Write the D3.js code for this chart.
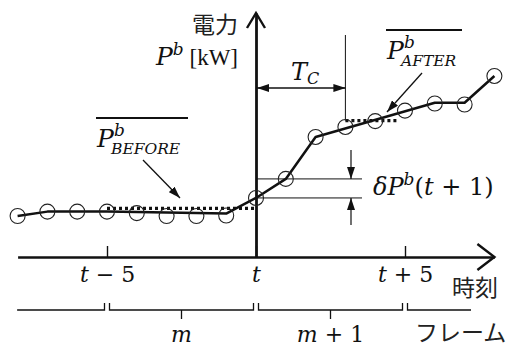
<!DOCTYPE html>
<html>
<head>
<meta charset="utf-8">
<script src="https://cdn.jsdelivr.net/npm/d3@7"></script>
<style>
  body { margin: 0; background: #fff; }
  svg { display: block; }
  .math { font-family: "DejaVu Serif", serif; }
  .jp { font-family: "Noto Sans CJK JP", sans-serif; }
</style>
</head>
<body>
<div id="chart"></div>
<script>
// time steps relative to t, and sampled power (circles)
var steps = [-8, -7, -6, -5, -4, -3, -2, -1, 0, 1, 2, 3, 4, 5, 6, 7, 8];
var sampleP = [16.8, 18.6, 18.6, 18.6, 18.0, 16.8, 16.8, 17.0, 24.2, 32.0, 49.2, 53.3, 55.7, 60.0, 62.9, 62.5, 74.2];

// trend line vertices
var trendSteps = [-8, -7, -5, -1, 0, 1, 2, 6, 7, 8];
var trendP = [16.8, 18.6, 18.6, 17.8, 24.2, 32.0, 49.2, 63.2, 63.2, 74.2];

// averages before / after (dotted)
var avgFrom = [-5, 3];
var avgTo = [0, 4.8];
var avgP = [19.9, 55.9];

// x ticks
var tickSteps = [-5, 0, 5];
var tickLabels = [["t", " − 5"], ["t", ""], ["t", " + 5"]];

// frames
var frameFrom = [-8.1, -5, 0, 5];
var frameTo = [-5, 0, 5, 7.3];
var frameLabels = ["", "m", "m + 1", ""];

var W = 515, H = 349;
var x = d3.scaleLinear().domain([-8, 8]).range([17.6, 494.4]);
var y = d3.scaleLinear().domain([0, 100]).range([257, 13]);

var svg = d3.select("#chart").append("svg")
    .attr("width", W)
    .attr("height", H);

var defs = svg.append("defs");
defs.append("marker")
    .attr("id", "head")
    .attr("viewBox", "0 0 12 8")
    .attr("refX", 12).attr("refY", 4)
    .attr("markerWidth", 12).attr("markerHeight", 8)
    .attr("markerUnits", "userSpaceOnUse")
    .attr("orient", "auto-start-reverse")
    .append("path")
    .attr("d", "M0,0L12,4L0,8Z")
    .attr("fill", "#111");

// x axis
var xAxis = svg.append("g")
    .attr("transform", "translate(0," + y(0) + ")")
    .call(d3.axisBottom(x)
        .tickValues(tickSteps)
        .tickSizeInner(-11)
        .tickSizeOuter(0)
        .tickPadding(9)
        .tickFormat(""));
xAxis.select(".domain").attr("stroke", "#111").attr("stroke-width", 2.4);
xAxis.selectAll(".tick line").attr("stroke", "#111").attr("stroke-width", 1.4);
xAxis.selectAll(".tick text").each(function(d, i) {
    var t = d3.select(this)
        .attr("class", "math")
        .attr("font-size", 22)
        .attr("fill", "#111");
    t.append("tspan").attr("font-style", "italic").text(tickLabels[i][0]);
    t.append("tspan").text(tickLabels[i][1]);
});
// x arrow
svg.append("path")
    .attr("d", "M" + (x(8) - 17) + "," + (y(0) - 13) + "L" + x(8) + "," + y(0) + "L" + (x(8) - 17) + "," + (y(0) + 13))
    .attr("fill", "none").attr("stroke", "#111").attr("stroke-width", 2.4);

// y axis
var yAxis = svg.append("g")
    .attr("transform", "translate(" + x(0) + ",0)")
    .call(d3.axisLeft(y).tickValues([]).tickSizeOuter(0));
yAxis.select(".domain").attr("stroke", "#111").attr("stroke-width", 2.8);
svg.append("path")
    .attr("d", "M" + (x(0) - 9) + "," + (y(100) + 15) + "L" + x(0) + "," + y(100) + "L" + (x(0) + 9) + "," + (y(100) + 15))
    .attr("fill", "none").attr("stroke", "#111").attr("stroke-width", 2.4);

// axis titles
svg.append("text").attr("class", "jp")
    .attr("x", 238).attr("y", 33)
    .attr("text-anchor", "end")
    .attr("font-size", 23).attr("fill", "#222")
    .text("電力");
var yt = svg.append("text").attr("class", "math")
    .attr("x", 238).attr("y", 65)
    .attr("text-anchor", "end")
    .attr("fill", "#111");
yt.append("tspan").attr("font-style", "italic").attr("font-size", 25).text("P");
yt.append("tspan").attr("font-style", "italic").attr("font-size", 17).attr("dy", -10).text("b");
yt.append("tspan").attr("font-size", 23).attr("dy", 10).attr("font-family", "Liberation Serif").text(" [kW]");

svg.append("text").attr("class", "jp")
    .attr("x", 452).attr("y", 296)
    .attr("font-size", 23).attr("fill", "#222")
    .text("時刻");

// delta lines
var dTop = y(sampleP[steps.indexOf(1)]);
var dBot = y(sampleP[steps.indexOf(0)]);
svg.selectAll(".dline").data([dTop, dBot]).enter().append("line")
    .attr("x1", x(0)).attr("x2", 362)
    .attr("y1", function(d) { return d; })
    .attr("y2", function(d) { return d; })
    .attr("stroke", "#111").attr("stroke-width", 1);
svg.append("line")
    .attr("x1", 351).attr("x2", 351).attr("y1", dTop - 29).attr("y2", dTop)
    .attr("stroke", "#111").attr("stroke-width", 1.2).attr("marker-end", "url(#head)");
svg.append("line")
    .attr("x1", 351).attr("x2", 351).attr("y1", dBot + 27).attr("y2", dBot)
    .attr("stroke", "#111").attr("stroke-width", 1.2).attr("marker-end", "url(#head)");
var dt = svg.append("text").attr("class", "math")
    .attr("x", 373).attr("y", 195).attr("fill", "#111");
dt.append("tspan").attr("font-style", "italic").attr("font-size", 24).text("δP");
dt.append("tspan").attr("font-style", "italic").attr("font-size", 17).attr("dy", -10).text("b");
dt.append("tspan").attr("font-size", 24).attr("dy", 10).text("(");
dt.append("tspan").attr("font-size", 24).attr("font-style", "italic").text("t");
dt.append("tspan").attr("font-size", 24).text(" + 1)");

// Tc
var tcX = x(3);
svg.append("line")
    .attr("x1", tcX).attr("x2", tcX).attr("y1", 35).attr("y2", y(avgP[1]))
    .attr("stroke", "#111").attr("stroke-width", 1);
svg.append("line")
    .attr("x1", x(0) + 1).attr("x2", tcX).attr("y1", 88).attr("y2", 88)
    .attr("stroke", "#111").attr("stroke-width", 1.3)
    .attr("marker-start", "url(#head)").attr("marker-end", "url(#head)");
var tc = svg.append("text").attr("class", "math")
    .attr("x", 291).attr("y", 80).attr("fill", "#111");
tc.append("tspan").attr("font-style", "italic").attr("font-size", 24).text("T");
tc.append("tspan").attr("font-style", "italic").attr("font-size", 16).attr("dy", 4).text("C");

// average dotted lines
svg.selectAll(".avg").data(avgP).enter().append("line")
    .attr("x1", function(d, i) { return x(avgFrom[i]); })
    .attr("x2", function(d, i) { return x(avgTo[i]); })
    .attr("y1", function(d) { return y(d); })
    .attr("y2", function(d) { return y(d); })
    .attr("stroke", "#111").attr("stroke-width", 3.2)
    .attr("stroke-dasharray", "3,3");

// trend line
var line = d3.line()
    .x(function(d, i) { return x(trendSteps[i]); })
    .y(function(d) { return y(d); });
svg.append("path")
    .datum(trendP)
    .attr("d", line)
    .attr("fill", "none").attr("stroke", "#111").attr("stroke-width", 2.5)
    .attr("stroke-linejoin", "round");

// sample circles
svg.selectAll(".pt").data(sampleP).enter().append("circle")
    .attr("cx", function(d, i) { return x(steps[i]); })
    .attr("cy", function(d) { return y(d); })
    .attr("r", 7.5)
    .attr("fill", "none").attr("stroke", "#222").attr("stroke-width", 1.1);

// average labels with overbar
function avgLabel(px, py, sub, barW) {
    svg.append("line")
        .attr("x1", px - 1).attr("x2", px - 1 + barW)
        .attr("y1", py - 29).attr("y2", py - 29)
        .attr("stroke", "#111").attr("stroke-width", 2);
    var g = svg.append("text").attr("class", "math").attr("fill", "#111")
        .attr("font-style", "italic");
    g.append("tspan").attr("x", px).attr("y", py).attr("font-size", 25).text("P");
    g.append("tspan").attr("x", px + 17).attr("y", py - 11).attr("font-size", 17).text("b");
    g.append("tspan").attr("x", px + 14).attr("y", py + 7).attr("font-size", 15.5).text(sub);
}
avgLabel(97, 147, "BEFORE", 92);
avgLabel(387, 59, "AFTER", 76);

svg.append("line")
    .attr("x1", 143).attr("y1", 160).attr("x2", 180).attr("y2", 198)
    .attr("stroke", "#111").attr("stroke-width", 1.3).attr("marker-end", "url(#head)");
svg.append("line")
    .attr("x1", 422).attr("y1", 73).attr("x2", 387).attr("y2", 112)
    .attr("stroke", "#111").attr("stroke-width", 1.3).attr("marker-end", "url(#head)");

// frame brackets
var fy = 310;
var fr = svg.selectAll(".frame").data(frameFrom).enter().append("g");
fr.append("path")
    .attr("d", function(d, i) {
        var a = x(d) + 2.5, b = x(frameTo[i]) - 2.5;
        var s = (d % 5 === 0) ? "M" + a + "," + (fy - 7) + "L" + a + "," + fy : "M" + a + "," + fy;
        s += "L" + b + "," + fy;
        if (frameTo[i] % 5 === 0) s += "L" + b + "," + (fy - 7);
        if (frameLabels[i]) {
            var c = (x(d) + x(frameTo[i])) / 2;
            s += "M" + c + "," + fy + "L" + c + "," + (fy + 9);
        }
        return s;
    })
    .attr("fill", "none").attr("stroke", "#111").attr("stroke-width", 1.3);
fr.append("text").attr("class", "math")
    .attr("x", function(d, i) { return (x(d) + x(frameTo[i])) / 2; })
    .attr("y", 342)
    .attr("text-anchor", "middle")
    .attr("font-size", 22).attr("fill", "#111")
    .each(function(d, i) {
        var parts = frameLabels[i].split(" ");
        if (!frameLabels[i]) return;
        var t = d3.select(this);
        t.append("tspan").attr("font-style", "italic").text(parts[0]);
        if (parts.length > 1) t.append("tspan").text(" " + parts.slice(1).join(" "));
    });

svg.append("text").attr("class", "jp")
    .attr("x", 415).attr("y", 341)
    .attr("font-size", 23).attr("fill", "#222")
    .text("フレーム");
</script>
</body>
</html>
